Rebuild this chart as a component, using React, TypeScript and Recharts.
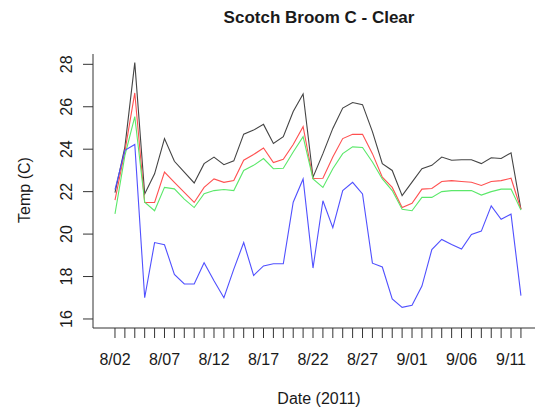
import { LineChart, Line, XAxis, YAxis } from 'recharts';

// one entry per day, 8/02 .. 9/12 (2011)
const dates = [
  '8/02', '8/03', '8/04', '8/05', '8/06', '8/07', '8/08', '8/09', '8/10', '8/11',
  '8/12', '8/13', '8/14', '8/15', '8/16', '8/17', '8/18', '8/19', '8/20', '8/21',
  '8/22', '8/23', '8/24', '8/25', '8/26', '8/27', '8/28', '8/29', '8/30', '8/31',
  '9/01', '9/02', '9/03', '9/04', '9/05', '9/06', '9/07', '9/08', '9/09', '9/10',
  '9/11', '9/12',
];

const labelledDates = ['8/02', '8/07', '8/12', '8/17', '8/22', '8/27', '9/01', '9/06', '9/11'];
const tempTicks = [16, 18, 20, 22, 24, 26, 28];

const blackSeries = [
  21.95, 24.1, 28.08, 21.89, 22.84, 24.5, 23.43, 22.92, 22.41, 23.32,
  23.63, 23.27, 23.45, 24.71, 24.9, 25.17, 24.27, 24.59, 25.78, 26.6,
  22.68, 23.79, 24.98, 25.94, 26.2, 26.1, 24.83, 23.32, 23.0, 21.81,
  22.45, 23.08, 23.24, 23.63, 23.48, 23.5, 23.5, 23.32, 23.6, 23.56,
  23.83, 21.17,
];
const redSeries = [
  21.6, 23.9, 26.65, 21.49, 21.49, 22.92, 22.44, 21.97, 21.49, 22.2,
  22.6, 22.44, 22.52, 23.48, 23.75, 24.06, 23.37, 23.52, 24.22, 25.06,
  22.62, 22.63, 23.63, 24.5, 24.7, 24.7, 23.79, 22.68, 22.2, 21.25,
  21.45, 22.12, 22.15, 22.48, 22.52, 22.48, 22.44, 22.29, 22.48, 22.52,
  22.63, 21.17,
];
const greenSeries = [
  20.95, 23.7, 25.54, 21.5, 21.1, 22.2, 22.13, 21.65, 21.25, 21.9,
  22.05, 22.1, 22.05, 23.0, 23.24, 23.56, 23.08, 23.1, 23.87, 24.59,
  22.6, 22.2, 23.08, 23.79, 24.11, 24.08, 23.4, 22.6, 22.05, 21.17,
  21.1, 21.73, 21.73, 22.0, 22.05, 22.05, 22.05, 21.84, 22.0, 22.12,
  22.12, 21.13,
];
const blueSeries = [
  22.1, 23.95, 24.22, 17.0, 19.6, 19.5, 18.1, 17.65, 17.65, 18.65,
  17.8, 17.0, 18.35, 19.6, 18.05, 18.5, 18.6, 18.6, 21.5, 22.6,
  18.4, 21.57, 20.3, 22.05, 22.44, 21.89, 18.63, 18.45, 16.95, 16.55,
  16.65, 17.55, 19.27, 19.75, 19.51, 19.3, 19.98, 20.14, 21.33, 20.7,
  20.94, 17.1,
];

const data = dates.map((date, i) => ({
  day: i,
  date,
  black: blackSeries[i],
  red: redSeries[i],
  green: greenSeries[i],
  blue: blueSeries[i],
}));
const dayTicks = dates.map((_, i) => i);

const FONT = '"Liberation Sans", Arial, Helvetica, sans-serif';
const INK = '#1a1a1a';

const DateTick = (props: any) => {
  const { x, y, payload } = props;
  const label = dates[payload.value];
  if (!labelledDates.includes(label)) return null;
  return (
    <text x={x} y={y} dy={27} textAnchor="middle" fontSize={16} fontFamily={FONT} fill={INK}>
      {label}
    </text>
  );
};

const TempTick = (props: any) => {
  const { x, y, payload } = props;
  const bx = x - 11;
  return (
    <text
      x={bx}
      y={y}
      transform={`rotate(-90 ${bx} ${y})`}
      textAnchor="middle"
      fontSize={16}
      fontFamily={FONT}
      fill={INK}
    >
      {payload.value}
    </text>
  );
};

export default function App() {
  return (
    <div style={{ position: 'absolute', left: 0, top: 0, width: 535, height: 414, overflow: 'hidden', background: '#fff' }}>
      <LineChart width={560} height={414} data={data} margin={{ top: 54, right: 15, bottom: 46, left: 53 }}>
        <XAxis
          dataKey="day"
          type="number"
          domain={[-2.22, 43.43]}
          ticks={dayTicks}
          interval={0}
          tickSize={10}
          tickMargin={0}
          height={40}
          allowDataOverflow
          axisLine={{ stroke: '#333' }}
          tickLine={{ stroke: '#333' }}
          tick={<DateTick />}
        />
        <XAxis
          xAxisId="top"
          orientation="top"
          type="number"
          domain={[-2.22, 43.43]}
          height={0}
          tick={false}
          tickLine={false}
          axisLine={{ stroke: '#333' }}
        />
        <YAxis
          type="number"
          domain={[15.575, 28.486]}
          ticks={tempTicks}
          interval={0}
          tickSize={10}
          tickMargin={0}
          width={40}
          allowDataOverflow
          axisLine={{ stroke: '#333' }}
          tickLine={{ stroke: '#333' }}
          tick={<TempTick />}
        />
        <Line type="linear" dataKey="black" stroke="#444444" strokeWidth={1.1} dot={false} isAnimationActive={false} />
        <Line type="linear" dataKey="red" stroke="#ff5050" strokeWidth={1.1} dot={false} isAnimationActive={false} />
        <Line type="linear" dataKey="green" stroke="#5be86a" strokeWidth={1.1} dot={false} isAnimationActive={false} />
        <Line type="linear" dataKey="blue" stroke="#5050ff" strokeWidth={1.1} dot={false} isAnimationActive={false} />
      </LineChart>
      <svg width={535} height={414} style={{ position: 'absolute', left: 0, top: 0, pointerEvents: 'none' }}>
        <text x={319} y={23} textAnchor="middle" fontSize={17} fontWeight="bold" fontFamily={FONT} fill={INK}>
          Scotch Broom C - Clear
        </text>
        <text x={30} y={190} transform="rotate(-90 30 190)" textAnchor="middle" fontSize={16} fontFamily={FONT} fill={INK}>
          Temp (C)
        </text>
        <text x={319} y={404} textAnchor="middle" fontSize={16} fontFamily={FONT} fill={INK}>
          Date (2011)
        </text>
      </svg>
    </div>
  );
}
